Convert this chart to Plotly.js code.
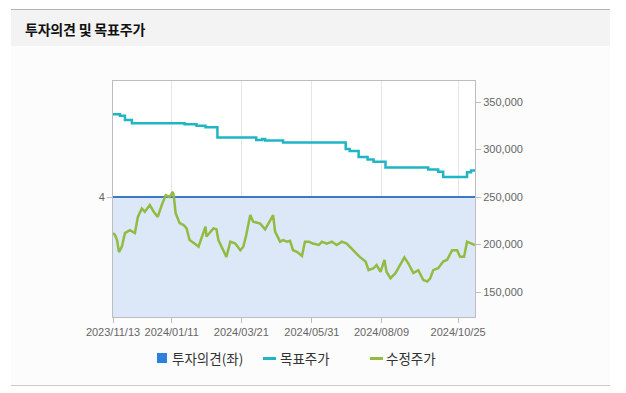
<!DOCTYPE html>
<html>
<head>
<meta charset="utf-8">
<script src="https://cdn.plot.ly/plotly-3.0.1.min.js"></script>
<style>
  html, body { margin: 0; padding: 0; background: #ffffff; width: 626px; height: 393px; overflow: hidden; }
  #frame { position: absolute; left: 11px; top: 9px; width: 599px; height: 375px; background: #fcfcfc; border-top: 1px solid #b4b4b4; border-bottom: 1px solid #c8c8c8; }
  #header { position: absolute; left: 0; top: 0; width: 599px; height: 36px; background: #f3f3f3; }
  #title { position: absolute; left: 14px; top: 9px; font-family: "Noto Sans CJK KR", sans-serif; font-weight: bold; font-size: 14px; color: #111; letter-spacing: -0.2px; }
  #chart { position: absolute; left: 0; top: 0; width: 626px; height: 393px; }
  #legend { position: absolute; top: 349px; left: 0; width: 626px; height: 20px; font-family: "Noto Sans CJK KR", sans-serif; font-size: 13.5px; color: #333; }
  .lg { position: absolute; top: 0; line-height: 18px; white-space: nowrap; }
  .sq { position: absolute; width: 10px; height: 10px; top: 4px; }
  .ln { position: absolute; width: 13px; height: 3px; top: 8px; }
</style>
</head>
<body>
<div id="frame"><div id="header"><div id="title">투자의견 및 목표주가</div></div></div>
<div id="chart"></div>
<div id="legend">
  <div class="sq" style="left:157px;background:#2f7fdc;"></div><div class="lg" style="left:172px;">투자의견(좌)</div>
  <div class="ln" style="left:263px;background:#1fb5c5;"></div><div class="lg" style="left:280px;">목표주가</div>
  <div class="ln" style="left:370px;background:#92bb42;"></div><div class="lg" style="left:386px;">수정주가</div>
</div>
<script>
// 투자의견 (left axis)
const opinionDates = ['2023-11-13', '2024-11-11'];
const opinionValues = [4, 4];

// 목표주가 (target price, step line)
const targetDates = ['2023-11-13','2023-11-20','2023-11-25','2023-12-02','2024-01-24','2024-02-05','2024-02-14','2024-02-26','2024-04-05','2024-04-11','2024-04-14','2024-05-02','2024-07-04','2024-07-08','2024-07-17','2024-07-26','2024-08-01','2024-08-13','2024-09-25','2024-10-05','2024-10-10','2024-11-03','2024-11-07','2024-11-11'];
const targetValues = [337000,335500,331000,327500,326500,325000,323500,312500,310000,311000,309500,307500,300500,298500,292000,289500,287000,281000,279000,276500,271000,276000,278000,278000];

// 수정주가 (adjusted price)
const priceDates = ['2023-11-13','2023-11-15','2023-11-17','2023-11-19','2023-11-22','2023-11-25','2023-11-30','2023-12-03','2023-12-05','2023-12-08','2023-12-12','2023-12-15','2023-12-20','2023-12-24','2023-12-28','2024-01-01','2024-01-05','2024-01-09','2024-01-12','2024-01-13','2024-01-15','2024-01-19','2024-01-23','2024-01-26','2024-01-29','2024-02-03','2024-02-07','2024-02-14','2024-02-15','2024-02-22','2024-02-25','2024-02-27','2024-03-03','2024-03-06','2024-03-10','2024-03-15','2024-03-20','2024-03-23','2024-03-26','2024-03-30','2024-04-02','2024-04-09','2024-04-14','2024-04-17','2024-04-22','2024-04-24','2024-04-29','2024-05-02','2024-05-06','2024-05-09','2024-05-12','2024-05-16','2024-05-21','2024-05-24','2024-05-28','2024-06-01','2024-06-07','2024-06-10','2024-06-15','2024-06-20','2024-06-25','2024-06-30','2024-07-05','2024-07-08','2024-07-13','2024-07-18','2024-07-24','2024-07-27','2024-08-01','2024-08-04','2024-08-08','2024-08-12','2024-08-14','2024-08-18','2024-08-23','2024-08-28','2024-09-01','2024-09-05','2024-09-10','2024-09-15','2024-09-20','2024-09-24','2024-09-27','2024-09-30','2024-10-05','2024-10-10','2024-10-14','2024-10-19','2024-10-24','2024-10-27','2024-10-31','2024-11-03','2024-11-08','2024-11-11'];
const priceValues = [212000,210000,205000,192000,198000,212000,215000,213500,212000,229000,238000,234500,241500,234500,229000,241500,252000,250000,255500,252000,233000,222500,220500,217000,204700,201000,197700,218800,208400,217000,216000,204700,194000,187000,203000,201000,194000,197700,210000,231000,224000,222000,216000,222000,231000,213500,203000,204700,203000,204000,194000,192400,188000,203000,203000,201000,199500,203000,201000,203000,199500,203000,201000,197700,192400,187000,182000,173000,175000,178400,171300,183700,171300,164500,169800,178400,186500,180000,170000,173000,162600,161000,164500,173000,175000,182000,184000,194000,194000,187000,187000,203000,201000,199500];

// axis ticks
const xTickVals = ['2023-11-13','2024-01-11','2024-03-21','2024-05-31','2024-08-09','2024-10-25'];
const xTickText = ['2023/11/13','2024/01/11','2024/03/21','2024/05/31','2024/08/09','2024/10/25'];
const leftTicks = [4];
const rightTicks = [150000, 200000, 250000, 300000, 350000];

const traces = [
  { x: opinionDates, y: opinionValues, type: 'scatter', mode: 'lines', name: '투자의견(좌)',
    line: { color: '#3b78c8', width: 2 }, fill: 'tozeroy', fillcolor: '#dce7f7', yaxis: 'y', showlegend: false, hoverinfo: 'skip' },
  { x: targetDates, y: targetValues, type: 'scatter', mode: 'lines', name: '목표주가',
    line: { color: '#1fb5c5', width: 2.5, shape: 'hv' }, yaxis: 'y2', showlegend: false },
  { x: priceDates, y: priceValues, type: 'scatter', mode: 'lines', name: '수정주가',
    line: { color: '#92bb42', width: 2.5 }, yaxis: 'y2', showlegend: false }
];

const tickFont = { family: 'Liberation Sans, Arial, sans-serif', size: 11, color: '#666' };

const layout = {
  width: 626, height: 393,
  margin: { l: 113, r: 151, t: 81, b: 76 },
  paper_bgcolor: 'rgba(0,0,0,0)',
  plot_bgcolor: '#ffffff',
  showlegend: false,
  xaxis: {
    type: 'date', range: ['2023-11-13', '2024-11-11'],
    tickmode: 'array', tickvals: xTickVals, ticktext: xTickText,
    showgrid: true, gridcolor: '#e2e6ec', gridwidth: 1,
    showline: true, linecolor: '#bdbdbd', linewidth: 1, mirror: true,
    ticks: 'outside', ticklen: 5, tickcolor: '#bdbdbd',
    tickfont: tickFont, zeroline: false
  },
  yaxis: {
    range: [0, 7.87], tickmode: 'array', tickvals: leftTicks,
    showgrid: false, zeroline: false,
    showline: true, linecolor: '#bdbdbd', linewidth: 1, mirror: true,
    ticks: 'outside', ticklen: 5, tickcolor: '#bdbdbd',
    tickfont: tickFont
  },
  yaxis2: {
    overlaying: 'y', side: 'right',
    range: [123700, 372100], tickmode: 'array', tickvals: rightTicks, tickformat: ',',
    showgrid: false, zeroline: false, showline: false,
    ticks: 'outside', ticklen: 5, tickcolor: '#bdbdbd',
    tickfont: tickFont
  }
};

Plotly.newPlot('chart', traces, layout, { displayModeBar: false, staticPlot: true });
</script>
</body>
</html>
